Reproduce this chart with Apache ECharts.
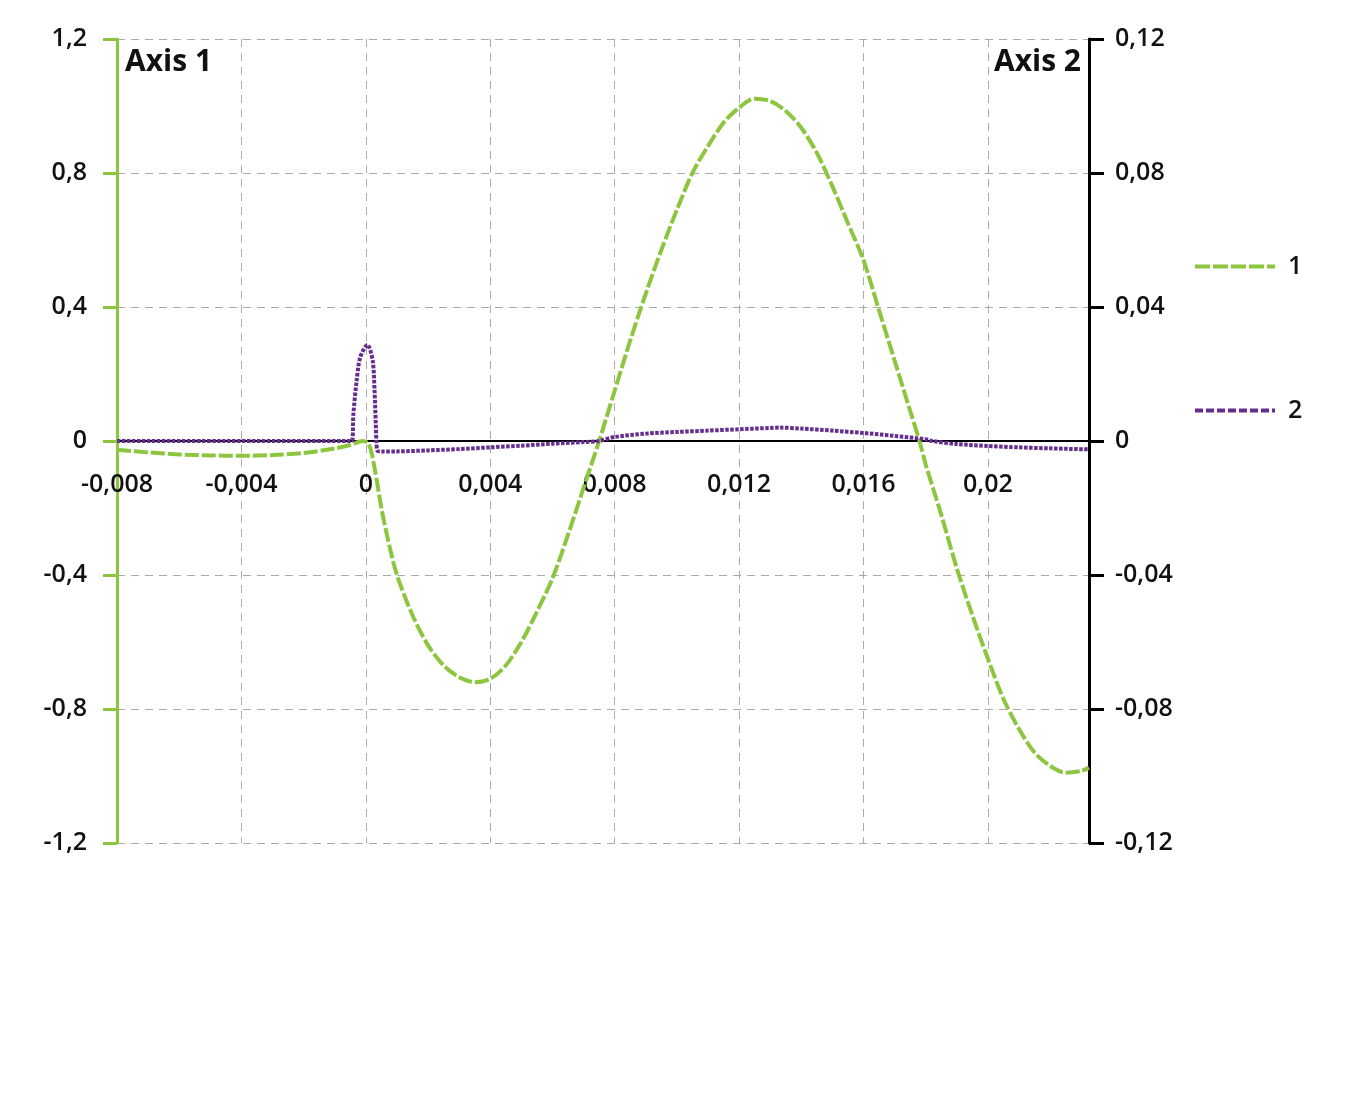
<!DOCTYPE html>
<html>
<head>
<meta charset="utf-8">
<script src="https://cdn.jsdelivr.net/npm/echarts@6/dist/echarts.min.js"></script>
<style>
html,body{margin:0;padding:0;background:#fff;}
#chart{width:1355px;height:1114px;}
</style>
</head>
<body>
<div id="chart"></div>
<script>
// Series 1 (left axis)
var x1 = [-0.008, -0.007, -0.006, -0.005, -0.004, -0.003, -0.002, -0.001, -0.0005, -0.0001,
  0.0001, 0.0003, 0.0005, 0.00075, 0.001, 0.0015, 0.002, 0.0025, 0.003, 0.0035, 0.004, 0.0045, 0.005, 0.0055, 0.006, 0.0065, 0.007, 0.0075,
  0.008, 0.0085, 0.009, 0.0095, 0.010, 0.0105, 0.011, 0.0115, 0.012, 0.0125, 0.013, 0.0135, 0.014, 0.0145, 0.015, 0.0155, 0.016, 0.0165, 0.017, 0.0175, 0.0178,
  0.018, 0.0185, 0.019, 0.0195, 0.020, 0.0205, 0.021, 0.0215, 0.022, 0.0225, 0.023, 0.02325];
var y1 = [-0.026, -0.034, -0.040, -0.043, -0.044, -0.042, -0.036, -0.022, -0.012, 0,
  -0.01, -0.09, -0.2, -0.31, -0.40, -0.52, -0.61, -0.67, -0.705, -0.72, -0.71, -0.67, -0.60, -0.51, -0.41, -0.28, -0.14, 0,
  0.15, 0.30, 0.44, 0.57, 0.69, 0.80, 0.88, 0.95, 0.995, 1.022, 1.015, 0.985, 0.935, 0.86, 0.76, 0.65, 0.54, 0.39, 0.24, 0.09, 0,
  -0.07, -0.22, -0.38, -0.52, -0.65, -0.77, -0.86, -0.93, -0.97, -0.99, -0.985, -0.975];
// Series 2 (right axis)
var x2 = [-0.008, -0.004, -0.00045, -0.0004, -0.0003, -0.00018, 0.00005, 0.00022, 0.00028, 0.00032, 0.00034, 0.00038, 0.0005, 0.001, 0.002, 0.003, 0.004, 0.005, 0.006, 0.007, 0.0075, 0.008, 0.009, 0.010, 0.011, 0.012, 0.013, 0.0133, 0.014, 0.015, 0.016, 0.017, 0.018, 0.0182, 0.019, 0.020, 0.021, 0.022, 0.02325];
var y2 = [0, 0, 0, 0.008, 0.0176, 0.025, 0.0287, 0.024, 0.015, 0.005, 0, -0.003, -0.0031, -0.0031, -0.0028, -0.0024, -0.0019, -0.0014, -0.0008, -0.0003, 0, 0.0012, 0.0022, 0.0027, 0.0031, 0.0035, 0.0039, 0.0040, 0.0037, 0.0031, 0.0024, 0.0015, 0.0005, 0, -0.0009, -0.0015, -0.0019, -0.0022, -0.0025];
var seriesNames = ['1', '2'];
var axisTitles = ['Axis 1', 'Axis 2'];

var GREEN = '#8cc63f', PURPLE = '#662d91';
var FONT = '"Open Sans", "Noto Sans", sans-serif';
function zip(a, b) { return a.map(function (v, i) { return [v, b[i]]; }); }
function fmt(v) { return String(+(+v).toFixed(6)).replace('.', ','); }

var chart = echarts.init(document.getElementById('chart'), null, {renderer: 'canvas'});
var labelStyle = {color: '#111', fontFamily: FONT, fontWeight: 600, fontSize: 25};
var hiddenSymbol = {color: 'rgba(0,0,0,0)', borderWidth: 0, opacity: 0};
chart.setOption({
  backgroundColor: '#fff',
  animation: false,
  grid: {left: 117, right: 266, top: 39, bottom: 271, containLabel: false},
  legend: {
    orient: 'vertical', left: 1188, top: 249, padding: 5, itemWidth: 80, itemHeight: 14, itemGap: 119,
    textStyle: {color: '#111', fontFamily: FONT, fontWeight: 600, fontSize: 25, lineHeight: 14, padding: [0, 0, 0, 8]},
    data: [
      {name: seriesNames[0], lineStyle: {color: GREEN, width: 4, type: [15, 3]}, itemStyle: hiddenSymbol},
      {name: seriesNames[1], lineStyle: {color: PURPLE, width: 4, type: [8, 3]}, itemStyle: hiddenSymbol}
    ]
  },
  xAxis: {
    type: 'value', min: -0.008, max: 0.02325, interval: 0.004,
    offset: -402,
    axisLine: {show: true, onZero: false, lineStyle: {color: '#000', width: 2}},
    axisTick: {show: false},
    axisLabel: Object.assign({margin: 31, showMaxLabel: false, formatter: fmt}, labelStyle),
    splitLine: {show: true, lineStyle: {color: '#aaa', width: 1, type: [8, 6]}}
  },
  yAxis: [
    {
      type: 'value', position: 'left', min: -1.2, max: 1.2, interval: 0.4,
      axisLine: {show: true, onZero: false, lineStyle: {color: GREEN, width: 3}},
      axisTick: {show: true, inside: false, length: 14, lineStyle: {color: GREEN, width: 3}},
      axisLabel: Object.assign({margin: 30, formatter: fmt}, labelStyle),
      splitLine: {show: true, lineStyle: {color: '#aaa', width: 1, type: [8, 6]}}
    },
    {
      type: 'value', position: 'right', min: -0.12, max: 0.12, interval: 0.04,
      axisLine: {show: true, onZero: false, lineStyle: {color: '#000', width: 3}},
      axisTick: {show: true, inside: false, length: 15, lineStyle: {color: '#000', width: 3}},
      axisLabel: Object.assign({margin: 26, formatter: fmt}, labelStyle),
      splitLine: {show: false}
    }
  ],
  graphic: [
    {type: 'text', left: 125, top: 47, style: {text: axisTitles[0], fill: '#111', font: '700 30px ' + FONT}},
    {type: 'text', right: 1355 - 1081, top: 47, style: {text: axisTitles[1], fill: '#111', font: '700 30px ' + FONT, textAlign: 'right'}}
  ],
  series: [
    {
      name: seriesNames[0], type: 'line', yAxisIndex: 0, data: zip(x1, y1),
      symbol: 'none', smooth: 0.3, z: 3,
      lineStyle: {color: GREEN, width: 4, type: [14, 3]}, itemStyle: {color: GREEN}
    },
    {
      name: seriesNames[1], type: 'line', yAxisIndex: 1, data: zip(x2, y2),
      symbol: 'none', smooth: 0.3, z: 4,
      lineStyle: {color: PURPLE, width: 4, type: [3.5, 1.5]}, itemStyle: {color: PURPLE}
    }
  ]
});
</script>
</body>
</html>
